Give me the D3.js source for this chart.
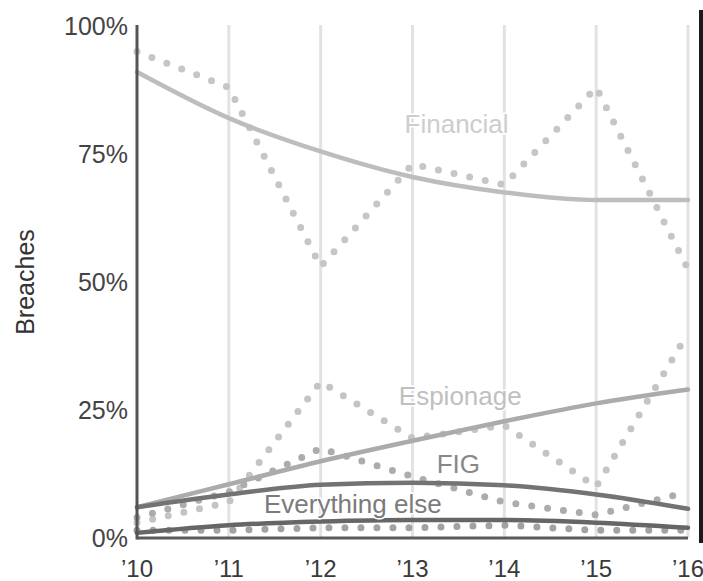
<!DOCTYPE html>
<html>
<head>
<meta charset="utf-8">
<script src="https://cdn.jsdelivr.net/npm/d3@7"></script>
<style>
  html, body { margin: 0; padding: 0; background: #fff; }
  svg { display: block; }
  text { font-family: "Liberation Sans", Arial, Helvetica, sans-serif; }
</style>
</head>
<body>
<svg id="chart" width="703" height="581"></svg>
<script>
// ---- data ----
const years = [2010, 2011, 2012, 2013, 2014, 2015, 2016];
const yearLabels = ["\u201910", "\u201911", "\u201912", "\u201913", "\u201914", "\u201915", "\u201916"];
const yTicks = [0, 25, 50, 75, 100];
const yTickLabels = ["0%", "25%", "50%", "75%", "100%"];

const financialTrend  = [91, 82, 75.5, 70.5, 67.5, 66, 66];
const financialActual = [95, 88, 53, 73, 69, 88, 52.5];
const espionageTrend  = [6, 10.5, 15, 19, 22.8, 26.3, 29];
const espionageActual = [3, 7, 30.5, 19.5, 22, 10, 40];
const figTrend        = [6, 8.5, 10.4, 10.8, 10.3, 8.5, 5.7];
const figActual       = [4, 9, 17.5, 12, 7, 4.5, 9];
const elseTrend       = [1, 2.5, 3.2, 3.5, 3.5, 3, 2];
const elseActual      = [1.5, 1.5, 2, 2, 2.5, 1.5, 1.5];

const seriesNames = ["Financial", "Espionage", "FIG", "Everything else"];

// ---- layout ----
const svg = d3.select("#chart");
const x = d3.scaleLinear().domain([2010, 2016]).range([137, 688]);
const y = d3.scaleLinear().domain([0, 100]).range([538, 26]);

// gridlines
svg.append("g").selectAll("line")
  .data(years.slice(1))
  .join("line")
  .attr("x1", d => x(d)).attr("x2", d => x(d))
  .attr("y1", y(100) - 1).attr("y2", y(0))
  .attr("stroke", "#e2e2e2").attr("stroke-width", 3);

const toPts = arr => arr.map((v, i) => [years[i], v]);
const lineLinear = d3.line().x(d => x(d[0])).y(d => y(d[1]));
const lineSmooth = d3.line().x(d => x(d[0])).y(d => y(d[1])).curve(d3.curveMonotoneX);

const dotted = [
  { data: financialActual, color: "#c6c6c6" },
  { data: espionageActual, color: "#c4c4c4" },
  { data: figActual,       color: "#acacac" },
  { data: elseActual,      color: "#a2a2a2" }
];
const solid = [
  { data: financialTrend, color: "#bdbdbd" },
  { data: espionageTrend, color: "#ababab" },
  { data: figTrend,       color: "#737373" },
  { data: elseTrend,      color: "#666666" }
];

svg.append("g").selectAll("path")
  .data(dotted)
  .join("path")
  .attr("d", d => lineLinear(toPts(d.data)))
  .attr("fill", "none")
  .attr("stroke", d => d.color)
  .attr("stroke-width", 7)
  .attr("stroke-linecap", "round")
  .attr("stroke-dasharray", "0 16");

// labels (with white halo)
const labels = [
  { text: seriesNames[0], x: 2013.48, y: 79.1, color: "#cdcdcd" },
  { text: seriesNames[1], x: 2013.52, y: 26,   color: "#c0c0c0" },
  { text: seriesNames[2], x: 2013.5,  y: 12.7, color: "#888888" },
  { text: seriesNames[3], x: 2012.35, y: 4.9,  color: "#7b7b7b" }
];

svg.append("g").selectAll("path")
  .data(solid)
  .join("path")
  .attr("d", d => lineSmooth(toPts(d.data)))
  .attr("fill", "none")
  .attr("stroke", d => d.color)
  .attr("stroke-width", 4.5)
  .attr("stroke-linecap", "round");

svg.append("g").selectAll("text")
  .data(labels)
  .join("text")
  .attr("x", d => x(d.x)).attr("y", d => y(d.y))
  .attr("text-anchor", "middle")
  .attr("font-size", 26)
  .attr("fill", d => d.color)
  .attr("stroke", "#fff").attr("stroke-width", 3)
  .attr("paint-order", "stroke")
  .text(d => d.text);

// axes lines
svg.append("line")
  .attr("x1", x(2010)).attr("x2", x(2010))
  .attr("y1", y(100) - 1).attr("y2", y(0) + 1.5)
  .attr("stroke", "#555").attr("stroke-width", 3);
svg.append("line")
  .attr("x1", x(2010)).attr("x2", x(2016))
  .attr("y1", y(0)).attr("y2", y(0))
  .attr("stroke", "#5a5a5a").attr("stroke-width", 3);

// y tick labels
svg.append("g").selectAll("text")
  .data(yTicks)
  .join("text")
  .attr("x", 128).attr("y", d => y(d))
  .attr("dy", "0.35em")
  .attr("text-anchor", "end")
  .attr("font-size", 25)
  .attr("fill", "#444")
  .text((d, i) => yTickLabels[i]);

// x tick labels
svg.append("g").selectAll("text")
  .data(years)
  .join("text")
  .attr("x", d => x(d)).attr("y", 577)
  .attr("text-anchor", "middle")
  .attr("font-size", 24)
  .attr("fill", "#3a3a3a")
  .text((d, i) => yearLabels[i]);

// y axis title
svg.append("text")
  .attr("transform", `translate(34, 282) rotate(-90)`)
  .attr("text-anchor", "middle")
  .attr("font-size", 25)
  .attr("fill", "#333")
  .text("Breaches");

// right edge border
svg.append("rect")
  .attr("x", 699).attr("y", 10).attr("width", 4).attr("height", 533)
  .attr("fill", "#1a1a1a");
</script>
</body>
</html>
